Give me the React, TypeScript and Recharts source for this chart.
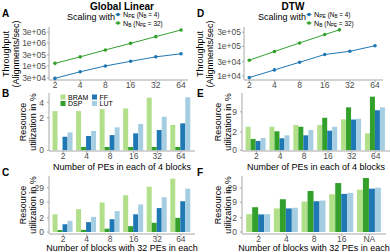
import React from "react";
import { Bar, BarChart, Line, LineChart, XAxis, YAxis } from "recharts";

const FONT = "'Liberation Sans', Arial, Helvetica, sans-serif";
const TICK_FILL = "#4d4d4d";
const AXIS = "#a8a8a8";
const BLUE = "#1f78b4";
const GREEN = "#33a02c";
const C_BRAM = "#b2df8a";
const C_DSP = "#33a02c";
const C_FF = "#1f78b4";
const C_LUT = "#a6cee3";

// throughput (A, D)
const peCounts = [2, 4, 8, 16, 32, 64];
const blockCounts = [2, 4, 8, 16, 32, 64];
const dtwBlockCounts = [2, 4, 8, 16, 24];
const linearPeThroughput = [2.9e4, 5.6e4, 1.0e5, 1.6e5, 2.5e5, 3.4e5];
const linearBlockThroughput = [1.3e5, 2.5e5, 5.0e5, 9.7e5, 1.9e6, 3.7e6];
const dtwPeThroughput = [8.8e3, 1.6e4, 2.9e4, 5.3e4, 6.8e4, 1.05e5];
const dtwBlockThroughput = [3.4e4, 6.7e4, 1.3e5, 2.5e5, 3.6e5];
const linearYTicks = [3e4, 1e5, 3e5, 1e6, 3e6];
const dtwYTicks = [1e4, 3e4, 1e5, 3e5];
const xTicks = [2, 4, 8, 16, 32, 64];

// resource utilization in % (B, C, E, F)
const peLabels = ["2", "4", "8", "16", "32", "64"];
const blockLabels = ["2", "4", "8", "16", "32", "64"];
const dtwBlockLabels = ["2", "4", "8", "16", "NA"];

const linPeBram = [2.75, 2.75, 3.0, 3.1, 4.9, 1.35];
const linPeDsp = [0, 0.12, 0.12, 0.12, 0.12, 0.12];
const linPeFf = [0.58, 0.62, 0.67, 0.77, 0.98, 1.48];
const linPeLut = [0.83, 0.92, 1.17, 1.43, 2.1, 4.96];

const linBlkBram = [2.9, 4.8, 8.7, 15.9, 31.6, 60];
const linBlkDsp = [0.16, 0.18, 0.29, 0.57, 1.03, 1.97];
const linBlkFf = [0.83, 1.13, 1.67, 2.9, 5.3, 9.7];
const linBlkLut = [1.36, 2.2, 4.0, 7.3, 13.5, 27];

const dtwPeBram = [3.1, 3.1, 3.55, 3.55, 5.4, 1.77];
const dtwPeDsp = [0.97, 2.12, 3.1, 6.0, 12.1, 23.8];
const dtwPeFf = [0.75, 1.05, 1.45, 2.23, 5.3, 10];
const dtwPeLut = [1.09, 1.45, 2.37, 3.1, 5.6, 12.1];

const dtwBlkBram = [2.98, 5.2, 9.5, 17.5, 25.4];
const dtwBlkDsp = [5.8, 11.6, 22.8, 43, 64];
const dtwBlkFf = [2.9, 5.2, 9.8, 18, 27.5];
const dtwBlkLut = [2.98, 5.5, 10.4, 19.5, 29.8];

const smallTicks = [0, 2, 4];
const midTicks = [0, 2, 9];
const bigTicks = [0, 2, 9, 29];

const points = (xs: number[], ys: number[]) => xs.map((x, i) => ({ x, y: ys[i] }));
const rows = (cats: string[], bram: number[], dsp: number[], ff: number[], lut: number[]) =>
  cats.map((cat, i) => ({ cat, bram: bram[i], dsp: dsp[i], ff: ff[i], lut: lut[i] }));

const sci = (v: number) => {
  const e = Math.floor(Math.log10(v) + 1e-9);
  const m = Math.round(v / Math.pow(10, e));
  return `${m}e+${String(e).padStart(2, "0")}`;
};

// log(1 + x) axis, d3-style scale object
function log1pScale(): any {
  let dom: number[] = [0, 1];
  let rng: number[] = [0, 1];
  const scale: any = (v: number) => {
    const a = Math.log1p(dom[0]);
    const b = Math.log1p(dom[dom.length - 1]);
    return rng[0] + ((Math.log1p(v) - a) / (b - a)) * (rng[rng.length - 1] - rng[0]);
  };
  scale.domain = (d?: number[]) => (d ? ((dom = d.map(Number)), scale) : dom);
  scale.range = (r?: number[]) => (r ? ((rng = r.map(Number)), scale) : rng);
  scale.copy = () => log1pScale().domain(dom).range(rng);
  scale.ticks = () => [];
  return scale;
}

const tickStyle = { fontSize: 8.5, fill: TICK_FILL };

function ThroughputPanel(props: {
  left: number;
  series: { data: { x: number; y: number }[]; color: string }[];
  yDomain: number[];
  yTicks: number[];
  xDomain: number[];
}) {
  const { left, series, yDomain, yTicks, xDomain } = props;
  return (
    <div style={{ position: "absolute", left, top: 0 }}>
      <LineChart width={195} height={90} margin={{ top: 27, right: 7, bottom: 0, left: 0 }}>
        <XAxis
          type="number"
          dataKey="x"
          scale="log"
          domain={xDomain}
          allowDataOverflow
          ticks={xTicks}
          interval={0}
          height={10}
          tick={tickStyle}
          tickSize={2}
          tickMargin={0}
          stroke={AXIS}
        />
        <YAxis
          type="number"
          dataKey="y"
          scale="log"
          domain={yDomain}
          allowDataOverflow
          ticks={yTicks}
          interval={0}
          width={49}
          tick={tickStyle}
          tickFormatter={sci}
          tickSize={2}
          tickMargin={1}
          stroke={AXIS}
        />
        {series.map((s, i) => (
          <Line
            key={i}
            data={s.data}
            dataKey="y"
            type="linear"
            stroke={s.color}
            strokeWidth={1}
            dot={{ r: 1.8, fill: s.color, stroke: s.color, strokeWidth: 0 }}
            isAnimationActive={false}
          />
        ))}
      </LineChart>
    </div>
  );
}

function ResourcePanel(props: {
  left: number;
  top: number;
  width: number;
  height: number;
  marginTop: number;
  yWidth: number;
  data: any[];
  domain: number[];
  ticks: number[];
  pad: number;
}) {
  const { left, top, width, height, marginTop, yWidth, data, domain, ticks, pad } = props;
  return (
    <div style={{ position: "absolute", left, top }}>
      <BarChart
        width={width}
        height={height}
        data={data}
        margin={{ top: marginTop, right: 0, bottom: 0, left: 0 }}
        barCategoryGap="5%"
        barGap={0}
      >
        <XAxis
          dataKey="cat"
          height={10}
          padding={{ left: pad, right: pad }}
          interval={0}
          tick={tickStyle}
          tickSize={2}
          tickMargin={0}
          stroke={AXIS}
        />
        <YAxis
          type="number"
          scale={log1pScale()}
          domain={domain}
          allowDataOverflow
          ticks={ticks}
          interval={0}
          width={yWidth}
          tick={tickStyle}
          tickSize={2}
          tickMargin={3}
          stroke={AXIS}
        />
        <Bar dataKey="bram" fill={C_BRAM} isAnimationActive={false} />
        <Bar dataKey="dsp" fill={C_DSP} isAnimationActive={false} />
        <Bar dataKey="ff" fill={C_FF} isAnimationActive={false} />
        <Bar dataKey="lut" fill={C_LUT} isAnimationActive={false} />
      </BarChart>
    </div>
  );
}

function YTitle({ x, y, lines }: { x: number; y: number; lines: string[] }) {
  return (
    <>
      {lines.map((l, i) => (
        <text
          key={i}
          x={x + i * 10}
          y={y}
          fontSize={9}
          textAnchor="middle"
          dominantBaseline="central"
          transform={`rotate(-90, ${x + i * 10}, ${y})`}
        >
          {l}
        </text>
      ))}
    </>
  );
}

function ScalingLegend({ x, y }: { x: number; y: number }) {
  const dotX = x + 3;
  return (
    <g style={{ whiteSpace: "pre" }}>
      <text x={x} y={y + 5} fontSize={9} textAnchor="end">
        Scaling with
      </text>
      <line x1={dotX - 2.5} x2={dotX + 2.5} y1={y} y2={y} stroke={BLUE} strokeWidth={1} />
      <circle cx={dotX} cy={y} r={1.8} fill={BLUE} />
      <text x={x + 8} y={y + 2.5} fontSize={7.2}>
        N<tspan fontSize={5} dy={1.3}>PE</tspan>
        <tspan fontSize={6.4} dy={-1.3}>{"  (N"}</tspan>
        <tspan fontSize={4.5} dy={1.1}>B</tspan>
        <tspan fontSize={6.4} dy={-1.1}>{" = 4)"}</tspan>
      </text>
      <line x1={dotX - 2.5} x2={dotX + 2.5} y1={y + 8.5} y2={y + 8.5} stroke={GREEN} strokeWidth={1} />
      <circle cx={dotX} cy={y + 8.5} r={1.8} fill={GREEN} />
      <text x={x + 8} y={y + 11} fontSize={7.2}>
        N<tspan fontSize={5} dy={1.3}>B</tspan>
        <tspan fontSize={6.4} dy={-1.3}>{"   (N"}</tspan>
        <tspan fontSize={4.5} dy={1.1}>PE</tspan>
        <tspan fontSize={6.4} dy={-1.1}>{" = 32)"}</tspan>
      </text>
    </g>
  );
}

function BarLegend() {
  const items = [
    { label: "BRAM", color: C_BRAM, x: 60.5, y: 94.5 },
    { label: "DSP", color: C_DSP, x: 60.5, y: 101 },
    { label: "FF", color: C_FF, x: 92, y: 94.5 },
    { label: "LUT", color: C_LUT, x: 92, y: 101 },
  ];
  return (
    <g>
      {items.map((it) => (
        <g key={it.label}>
          <rect x={it.x} y={it.y} width={5} height={5} fill={it.color} />
          <text x={it.x + 7.5} y={it.y + 5} fontSize={7}>
            {it.label}
          </text>
        </g>
      ))}
    </g>
  );
}

export default function App() {
  return (
    <div
      style={{
        position: "absolute",
        left: 0,
        top: 0,
        width: 390,
        height: 252,
        overflow: "hidden",
        background: "#fff",
        fontFamily: FONT,
      }}
    >
      <ThroughputPanel
        left={0}
        series={[
          { data: points(peCounts, linearPeThroughput), color: BLUE },
          { data: points(blockCounts, linearBlockThroughput), color: GREEN },
        ]}
        yDomain={[2.45e4, 5e6]}
        yTicks={linearYTicks}
        xDomain={[1.696, 77.6]}
      />
      <ThroughputPanel
        left={195}
        series={[
          { data: points(peCounts, dtwPeThroughput), color: BLUE },
          { data: points(dtwBlockCounts, dtwBlockThroughput), color: GREEN },
        ]}
        yDomain={[7.3e3, 4.5e5]}
        yTicks={dtwYTicks}
        xDomain={[1.728, 79.8]}
      />
      <ResourcePanel
        left={0}
        top={85}
        width={195}
        height={76}
        marginTop={8}
        yWidth={49}
        data={rows(peLabels, linPeBram, linPeDsp, linPeFf, linPeLut)}
        domain={[-0.023, 5.9]}
        ticks={smallTicks}
        pad={2.35}
      />
      <ResourcePanel
        left={0}
        top={170}
        width={195}
        height={74}
        marginTop={6}
        yWidth={49}
        data={rows(blockLabels, linBlkBram, linBlkDsp, linBlkFf, linBlkLut)}
        domain={[-0.143, 73.4]}
        ticks={bigTicks}
        pad={2.35}
      />
      <ResourcePanel
        left={195}
        top={85}
        width={195}
        height={76}
        marginTop={8}
        yWidth={47}
        data={rows(peLabels, dtwPeBram, dtwPeDsp, dtwPeFf, dtwPeLut)}
        domain={[-0.042, 29.9]}
        ticks={midTicks}
        pad={2.4}
      />
      <ResourcePanel
        left={195}
        top={170}
        width={191}
        height={74}
        marginTop={6}
        yWidth={47}
        data={rows(dtwBlockLabels, dtwBlkBram, dtwBlkDsp, dtwBlkFf, dtwBlkLut)}
        domain={[-0.143, 75]}
        ticks={bigTicks}
        pad={2.77}
      />

      <svg
        width={390}
        height={252}
        style={{ position: "absolute", left: 0, top: 0, pointerEvents: "none", fontFamily: FONT }}
      >
        <text x={122} y={9.5} fontSize={10} fontWeight="bold" textAnchor="middle">
          Global Linear
        </text>
        <text x={293} y={9.5} fontSize={10} fontWeight="bold" textAnchor="middle">
          DTW
        </text>

        <text x={2} y={16.5} fontSize={10} fontWeight="bold">A</text>
        <text x={2} y={97} fontSize={10} fontWeight="bold">B</text>
        <text x={2} y={176} fontSize={10} fontWeight="bold">C</text>
        <text x={197} y={16.5} fontSize={10} fontWeight="bold">D</text>
        <text x={197} y={97} fontSize={10} fontWeight="bold">E</text>
        <text x={197} y={176} fontSize={10} fontWeight="bold">F</text>

        <ScalingLegend x={115} y={14.5} />
        <ScalingLegend x={306} y={14.5} />
        <BarLegend />

        <YTitle x={6} y={54} lines={["Throughput", "(Alignments/sec)"]} />
        <YTitle x={200} y={54} lines={["Throughput", "(Alignments/sec)"]} />
        <YTitle x={23} y={122} lines={["Resource", "utilization in %"]} />
        <YTitle x={23} y={205} lines={["Resource", "utilization in %"]} />
        <YTitle x={218} y={122} lines={["Resource", "utilization in %"]} />
        <YTitle x={218} y={205} lines={["Resource", "utilization in %"]} />

        <text x={122} y={170} fontSize={9} textAnchor="middle">
          Number of PEs in each of 4 blocks
        </text>
        <text x={316} y={170} fontSize={9} textAnchor="middle">
          Number of PEs in each of 4 blocks
        </text>
        <text x={122} y={251} fontSize={9} textAnchor="middle">
          Number of blocks with 32 PEs in each
        </text>
        <text x={314} y={251} fontSize={9} textAnchor="middle">
          Number of blocks with 32 PEs in each
        </text>
      </svg>
    </div>
  );
}
